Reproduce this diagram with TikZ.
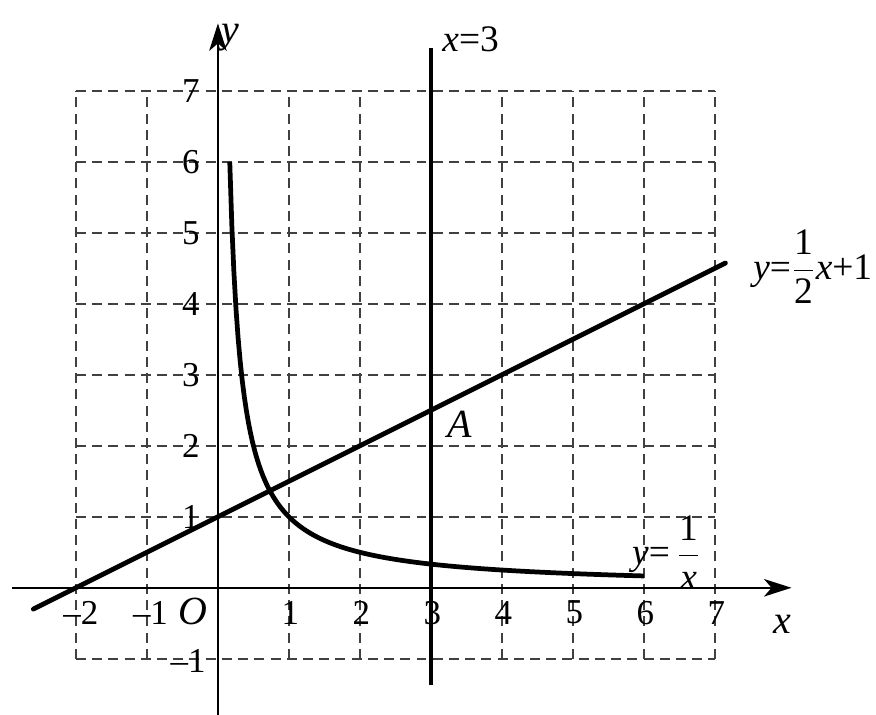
\documentclass[tikz,border=0pt]{standalone}
\usepackage{fontspec}
\setmainfont{Liberation Serif}
\usetikzlibrary{arrows.meta}
\begin{document}
\begin{tikzpicture}[
  gridline/.style={line width=0.75pt, dash pattern=on 4pt off 2.5pt, black!75},
  axisline/.style={line width=0.9pt, -{Stealth[length=11pt,width=7pt,inset=3pt]}},
  curve/.style={line width=1.9pt},
  vline/.style={line width=1.3pt},
  tick/.style={font=\fontsize{14}{16}\selectfont, inner sep=1pt},
  lab/.style={font=\fontsize{15}{17}\selectfont, inner sep=1pt}
]
\useasboundingbox (-3.07,-1.79) rectangle (9.27,8.28);
\fill[white] (-3.07,-1.79) rectangle (9.27,8.28);
% grid
\foreach \i in {-2,-1,1,2,3,4,5,6,7} \draw[gridline] (\i,-1) -- (\i,7);
\draw[gridline] (0,-1) -- (0,7);
\foreach \j in {-1,1,2,3,4,5,6,7} \draw[gridline] (-2,\j) -- (7,\j);
% axes
\coordinate (xs) at (-2.9,0);
\coordinate (xe) at (8.08,0);
\coordinate (ys) at (0,-1.79);
\coordinate (ye) at (0,7.95);
\draw[axisline] (xs) -- (xe);
\draw[axisline] (ys) -- (ye);
\node[lab, font=\fontsize{16}{18}\selectfont\itshape] (xl) at (7.95,-0.52) {x};
\node[lab, font=\fontsize{16}{18}\selectfont\itshape] (yl) at (0.17,7.75) {y};
\node[lab, font=\fontsize{16}{18}\selectfont\itshape] (O) at (-0.35,-0.34) {O};
% tick labels
\node[tick] (txm2) at (-1.93,-0.35) {\textendash2};
\node[tick] (txm1) at (-0.95,-0.35) {\textendash1};
\foreach \i in {1,2,3,4,5,6,7} \node[tick] (tx\i) at (\i+0.02,-0.35) {\i};
\foreach \j in {1,2,3,4,5,6,7} \node[tick] (ty\j) at (-0.38,\j) {\j};
\node[tick] (tym1) at (-0.42,-1.03) {\textendash1};
% x = 3
\coordinate (v1) at (3,7.6);
\coordinate (v2) at (3,-1.37);
\draw[vline] (v1) -- (v2);
\node[lab, anchor=west] (x3) at (3.12,7.72) {\textit{x}=3};
% line y = x/2 + 1
\draw[curve, line cap=round, domain=-2.6:7.15] plot (\x,{\x/2+1});
\node[lab, anchor=west] (ll) at (7.5,4.52) {\textit{y}=$\displaystyle\frac{\mbox{1}}{\mbox{2}}$\textit{x}+1};
% hyperbola
\draw[curve, domain=1/6:6, samples=200] plot (\x,{1/\x});
\node[lab] (hl) at (6.32,0.5) {\textit{y}=\,$\displaystyle\frac{\mbox{1}}{\mbox{\itshape x}}$};
% A
\node[lab, font=\fontsize{16}{18}\selectfont\itshape] (A) at (3.4,2.3) {A};
\end{tikzpicture}
\end{document}
